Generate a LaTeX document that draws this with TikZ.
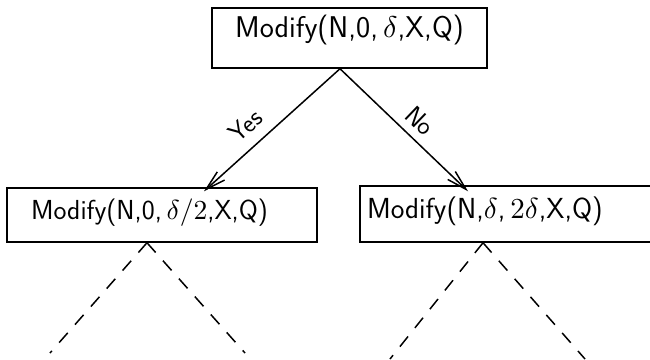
\documentclass[tikz,border=0pt]{standalone}
\DeclareFontShape{OML}{cmm}{m}{it}{<-> cmmi10}{}
\DeclareFontShape{OT1}{cmr}{m}{n}{<-> cmr10}{}
\DeclareFontShape{OMS}{cmsy}{m}{n}{<-> cmsy10}{}
\usetikzlibrary{arrows.meta,calc}
\begin{document}
\begin{tikzpicture}[x=1pt,y=-1pt,
  box/.style={draw, line width=1.5pt, rectangle, inner ysep=0pt, align=left},
  bigfont/.style={font=\sffamily\fontsize{30}{34}\selectfont},
  midfont/.style={font=\sffamily\fontsize{27.5}{32}\selectfont},
  arr/.style={line width=1.5pt, -{Straight Barb[length=20pt,width=11pt,line width=1.5pt]}},
  dashline/.style={line width=1.5pt, dash pattern=on 13pt off 11pt},
  lbl/.style={font=\sffamily\fontsize{26}{30}\selectfont, sloped, inner sep=0pt}]
\clip (0,0) rectangle (650,359);
\node[box, bigfont, inner xsep=0pt, text width=275pt, align=center, text height=29pt, text depth=31pt] (top) at (349.5,38) {Modify(N,0,\,$\delta$,X,Q)};
\node[box, midfont, inner xsep=24pt, text width=262pt, text height=31pt, text depth=23pt] (l) at (162,215) {Modify(N,0,\,$\delta/2$,X,Q)};
\node[box, midfont, font=\sffamily\fontsize{29}{33}\selectfont, inner xsep=7pt, text width=278pt, text height=32pt, text depth=24pt] (r) at (506,214) {Modify(N,$\delta$,\,$2\delta$,X,Q)};
\draw[arr] ([xshift=-9.5pt]top.south) -- node[lbl, pos=0.59, above=11pt] (yes) {Yes} ([xshift=42pt,yshift=-4pt]l.north);
\draw[arr] ([xshift=-9.5pt]top.south) -- node[lbl, pos=0.53, above=8pt] (no) {No} ([xshift=-38pt,yshift=-6pt]r.north);
\coordinate (la) at (50,353);
\coordinate (lb) at (245,353);
\coordinate (ra) at (390,359);
\coordinate (rb) at (585,359);
\draw[dashline] ([xshift=-15pt]l.south) -- (la);
\draw[dashline] ([xshift=-15pt]l.south) -- (lb);
\draw[dashline] ([xshift=-23pt]r.south) -- (ra);
\draw[dashline] ([xshift=-23pt]r.south) -- (rb);
\end{tikzpicture}
\end{document}
